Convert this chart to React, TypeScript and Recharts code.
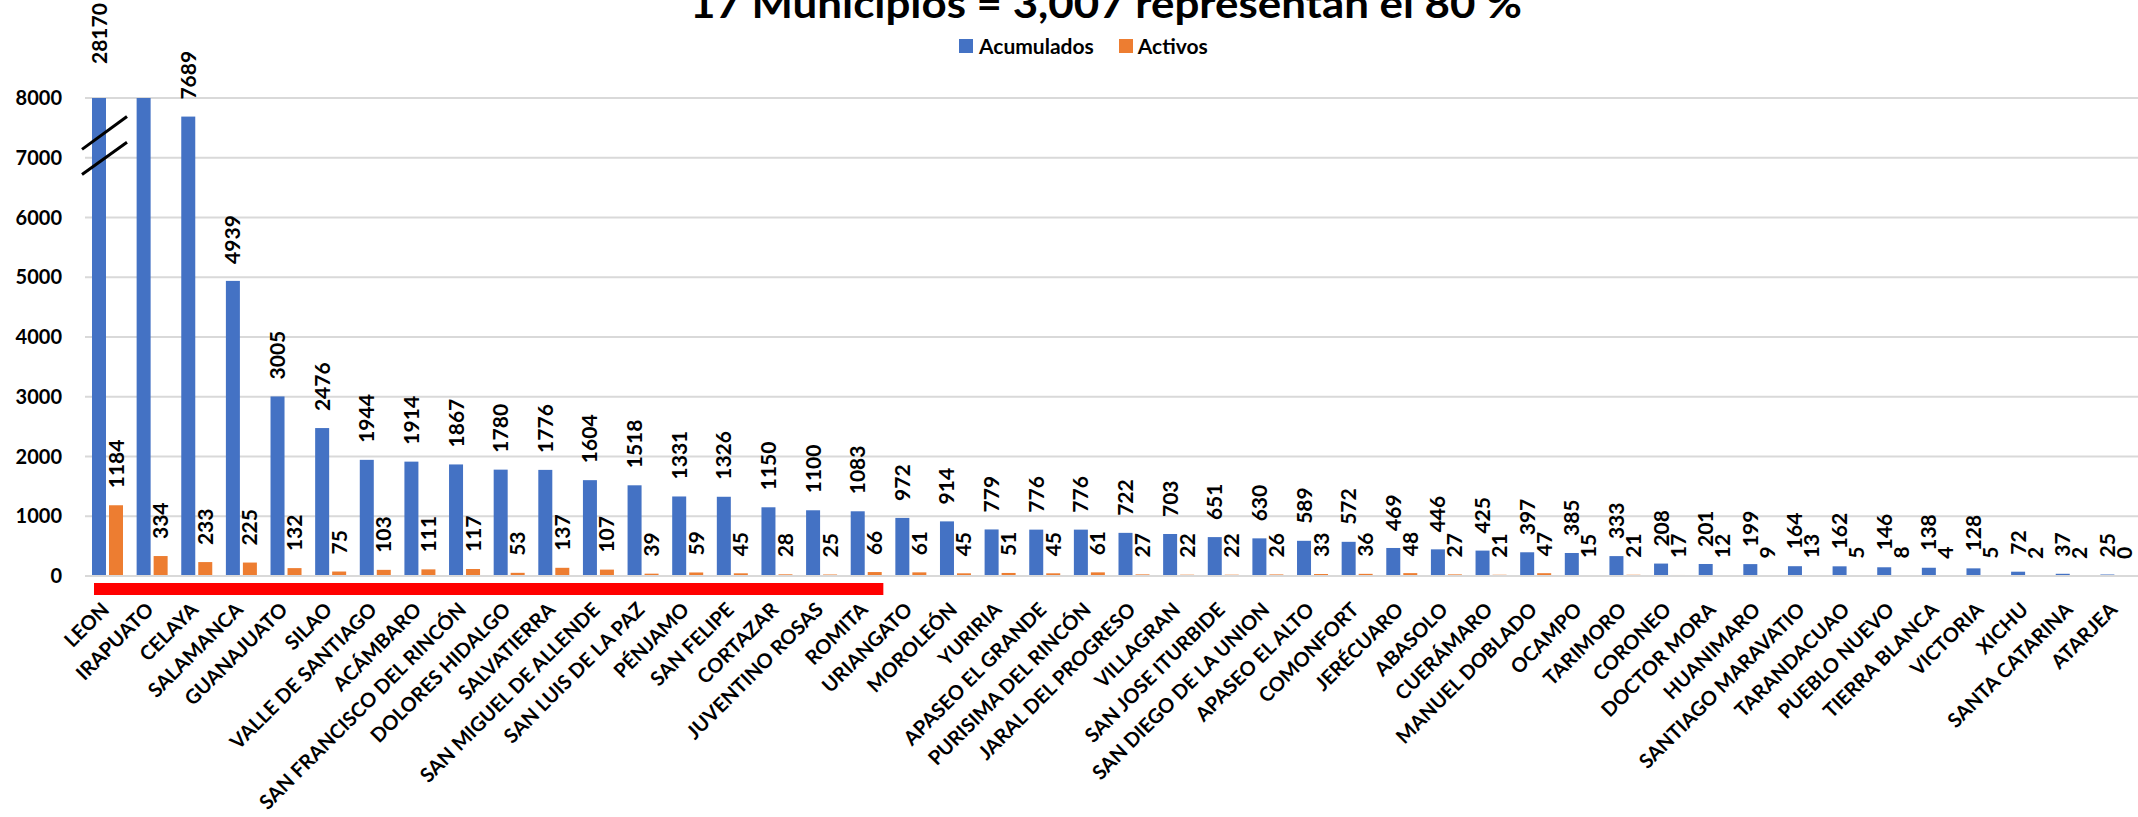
import {
  BarChart,
  Bar,
  XAxis,
  YAxis,
  CartesianGrid,
  Legend,
  LabelList,
  ReferenceArea,
} from 'recharts';

const CATEGORIES = [
  'LEON', 'IRAPUATO', 'CELAYA', 'SALAMANCA', 'GUANAJUATO', 'SILAO', 'VALLE DE SANTIAGO',
  'ACÁMBARO', 'SAN FRANCISCO DEL RINCÓN', 'DOLORES HIDALGO', 'SALVATIERRA',
  'SAN MIGUEL DE ALLENDE', 'SAN LUIS DE LA PAZ', 'PÉNJAMO', 'SAN FELIPE', 'CORTAZAR',
  'JUVENTINO ROSAS', 'ROMITA', 'URIANGATO', 'MOROLEÓN', 'YURIRIA', 'APASEO EL GRANDE',
  'PURISIMA DEL RINCÓN', 'JARAL DEL PROGRESO', 'VILLAGRAN', 'SAN JOSE ITURBIDE',
  'SAN DIEGO DE LA UNION', 'APASEO EL ALTO', 'COMONFORT', 'JERÉCUARO', 'ABASOLO',
  'CUERÁMARO', 'MANUEL DOBLADO', 'OCAMPO', 'TARIMORO', 'CORONEO', 'DOCTOR MORA',
  'HUANIMARO', 'SANTIAGO MARAVATIO', 'TARANDACUAO', 'PUEBLO NUEVO', 'TIERRA BLANCA',
  'VICTORIA', 'XICHU', 'SANTA CATARINA', 'ATARJEA',
];

const ACUMULADOS = [
  28170, 8900, 7689, 4939, 3005, 2476, 1944, 1914, 1867, 1780, 1776, 1604, 1518, 1331,
  1326, 1150, 1100, 1083, 972, 914, 779, 776, 776, 722, 703, 651, 630, 589, 572, 469,
  446, 425, 397, 385, 333, 208, 201, 199, 164, 162, 146, 138, 128, 72, 37, 25,
];

const ACTIVOS = [
  1184, 334, 233, 225, 132, 75, 103, 111, 117, 53, 137, 107, 39, 59, 45, 28, 25, 66,
  61, 45, 51, 45, 61, 27, 22, 22, 26, 33, 36, 48, 27, 21, 47, 15, 21, 17, 12, 9, 13,
  5, 8, 4, 5, 2, 2, 0,
];

const Y_TICKS = [0, 1000, 2000, 3000, 4000, 5000, 6000, 7000, 8000];
const Y_MAX = 8000;

// bars drawn with an axis break, and the one whose value label is not shown
const BROKEN = ['LEON'];
const HIDDEN_LABELS = ['IRAPUATO'];

// the 17 highlighted municipalities (red bar under the axis)
const HIGHLIGHT_FROM = 'LEON';
const HIGHLIGHT_TO = 'ROMITA';

const TITLE = '17 Municipios = 3,007 representan el 80 %';

const BLUE = '#4472C4';
const ORANGE = '#ED7D31';
const FONT = 'Lato, "Open Sans", sans-serif';

const data = CATEGORIES.map((name, i) => ({
  name,
  acum: ACUMULADOS[i],
  acumPlot: Math.min(ACUMULADOS[i], Y_MAX),
  activos: ACTIVOS[i],
}));

const AcumShape = (props: any) => {
  const { x, y, width, height, payload } = props;
  const broken = BROKEN.includes(payload.name);
  const perUnit = payload.acumPlot ? height / payload.acumPlot : 0;
  const py = (v: number) => y + height - v * perUnit;
  return (
    <g>
      <rect x={x} y={y} width={width} height={height} fill={BLUE} />
      {broken && (
        <g stroke="#000" strokeWidth={3}>
          <line x1={x - 10} y1={py(7140)} x2={x + 35} y2={py(7690)} />
          <line x1={x - 10} y1={py(6720)} x2={x + 35} y2={py(7260)} />
        </g>
      )}
    </g>
  );
};

const ActivosShape = (props: any) => {
  const { x, y, width, height } = props;
  if (!height || height < 0.5) return <g />;
  return <rect x={x} y={y} width={width} height={height} fill={ORANGE} />;
};

const makeLabel = (skipHidden: boolean) => (props: any) => {
  const vb = props.viewBox || {};
  const x = props.x ?? vb.x;
  const y = props.y ?? vb.y;
  const width = props.width ?? vb.width;
  const name = CATEGORIES[props.index];
  if (skipHidden && HIDDEN_LABELS.includes(name)) return null;
  const extra = skipHidden && BROKEN.includes(name) ? 17 : 0;
  const cx = x + width / 2;
  const ty = y - 17 - extra;
  return (
    <text
      transform={`translate(${cx + 7.5},${ty}) rotate(-90)`}
      fontFamily={FONT}
      fontWeight={700}
      fontSize={21}
      fill="#000"
    >
      {String(props.value)}
    </text>
  );
};

const XTick = ({ x, y, payload }: any) => (
  <g transform={`translate(${x + 3},${y + 35})`}>
    <text
      textAnchor="end"
      transform="rotate(-45)"
      fontFamily={FONT}
      fontWeight={700}
      fontSize={20}
      fill="#000"
    >
      {payload.value}
    </text>
  </g>
);

const LegendContent = () => (
  <div style={{ display: 'flex', alignItems: 'center', fontFamily: FONT, fontWeight: 700, fontSize: 21, color: '#000', whiteSpace: 'nowrap' }}>
    <span style={{ width: 14, height: 14, background: BLUE, marginRight: 6, display: 'inline-block' }} />
    <span>Acumulados</span>
    <span style={{ width: 14, height: 14, background: ORANGE, marginLeft: 25, marginRight: 5, display: 'inline-block' }} />
    <span>Activos</span>
  </div>
);

const App = () => {
  return (
    <div style={{ position: 'absolute', left: 0, top: 0, width: 2138, height: 817, background: '#fff' }}>
      <BarChart
        width={2138}
        height={817}
        data={data}
        margin={{ top: 98, right: 0, bottom: 0, left: 0 }}
        barSize={14}
        barGap={3}
      >
        <CartesianGrid vertical={false} stroke="#d9d9d9" strokeWidth={2} />
        <XAxis
          dataKey="name"
          interval={0}
          height={241}
          tickLine={false}
          tickSize={0}
          tickMargin={0}
          axisLine={{ stroke: '#d9d9d9', strokeWidth: 2 }}
          tick={<XTick />}
        />
        <YAxis
          width={85}
          domain={[0, Y_MAX]}
          ticks={Y_TICKS}
          axisLine={false}
          tickLine={false}
          tickSize={0}
          tickMargin={23}
          tick={{ fontFamily: FONT, fontWeight: 700, fontSize: 20, fill: '#000' }}
        />
        <Legend
          layout="horizontal"
          verticalAlign="middle"
          align="center"
          wrapperStyle={{ top: 33, left: 959, width: 'auto' }}
          content={<LegendContent />}
        />
        <ReferenceArea
          x1={HIGHLIGHT_FROM}
          x2={HIGHLIGHT_TO}
          y1={-117}
          y2={-318}
          ifOverflow="visible"
          shape={(p: any) => (
            <rect x={p.x + 9} y={p.y} width={p.width - 14} height={p.height} fill="#ff0000" />
          )}
        />
        <Bar dataKey="acumPlot" name="Acumulados" fill={BLUE} shape={<AcumShape />} isAnimationActive={false}>
          <LabelList dataKey="acum" content={makeLabel(true)} />
        </Bar>
        <Bar
          dataKey="activos"
          name="Activos"
          fill={ORANGE}
          minPointSize={(v: number) => (v === 0 ? 0.01 : 0)}
          shape={<ActivosShape />}
          isAnimationActive={false}
        >
          <LabelList dataKey="activos" content={makeLabel(false)} />
        </Bar>
      </BarChart>
      <svg width={2138} height={60} style={{ position: 'absolute', left: 0, top: 0, pointerEvents: 'none' }}>
        <text
          x={690}
          y={18}
          textLength={832}
          lengthAdjust="spacingAndGlyphs"
          fontFamily={FONT}
          fontWeight={700}
          fontSize={40}
          fill="#000"
        >
          {TITLE}
        </text>
      </svg>
    </div>
  );
};

export default App;
